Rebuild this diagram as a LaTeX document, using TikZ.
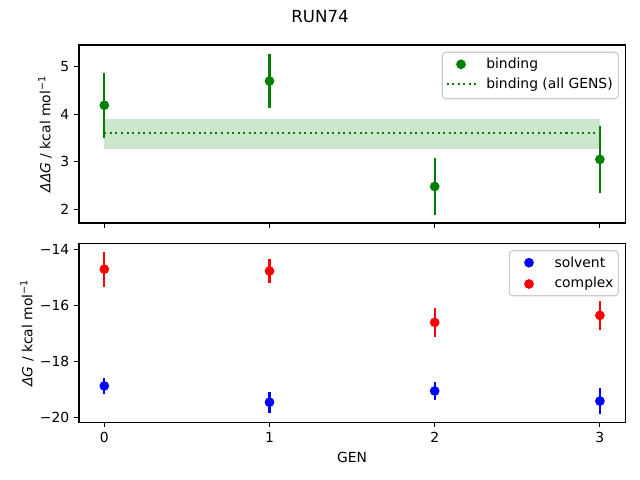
\documentclass[tikz,border=0pt]{standalone}
\usepackage{fontspec}
\setmainfont{DejaVu Sans}
\definecolor{mplgreen}{RGB}{0,128,0}
\definecolor{mplband}{RGB}{204,230,204}
\definecolor{legedge}{RGB}{204,204,204}
\begin{document}
\begin{tikzpicture}[x=0.72pt,y=-0.72pt,
  declare function={tx(\g)=104.3+165.2*\g; ty(\v)=114.3-47.5*(\v-4); by(\v)=249.3-28*(\v+14);},
  spine/.style={line width=0.8pt,black},
  tickmark/.style={line width=0.8pt,black},
  ticklab/.style={font=\fontsize{10pt}{12pt}\selectfont,inner sep=0pt},
  axlab/.style={font=\fontsize{10pt}{12pt}\selectfont,inner sep=0pt},
  errbar/.style={line width=1.5pt},
  legbox/.style={draw=legedge,line width=0.8pt,fill=white,fill opacity=0.8,rounded corners=2.5pt},
  legtext/.style={font=\fontsize{10pt}{12pt}\selectfont,inner sep=0pt,anchor=west},
  meanline/.style={mplgreen,line width=1.5pt,dash pattern=on 1.5pt off 2.5pt}
]
\useasboundingbox (0,0) rectangle (640,480);
\fill[white] (0,0) rectangle (640,480);
% title
\node[font=\fontsize{12pt}{14pt}\selectfont,inner sep=0pt] (title) at (320,16.7) {RUN74};

% ---------- top axes ----------
\fill[mplband] ({tx(0)},{ty(3.90)}) rectangle ({tx(3)},{ty(3.28)});
\draw[meanline] ({tx(0)},{ty(3.61)}) -- ({tx(3)},{ty(3.61)});
% error bars binding
\foreach \g/\v/\e in {0/4.19/0.69, 1/4.70/0.57, 2/2.48/0.60, 3/3.05/0.70}{
  \draw[errbar,mplgreen] ({tx(\g)},{ty(\v+\e)}) -- ({tx(\g)},{ty(\v-\e)});
  \fill[mplgreen] ({tx(\g)},{ty(\v)}) circle (3.5pt);
}
\draw[spine] (79,45) rectangle (625.3,223);
% y ticks top
\foreach \v in {2,3,4,5}{
  \draw[tickmark] (79,{ty(\v)}) -- ++(-4.9,0);
  \node[ticklab,anchor=east] (tt\v) at (69.5,{ty(\v)}) {\v};
}
% x ticks top
\foreach \g in {0,1,2,3}{
  \draw[tickmark] ({tx(\g)},223) -- ++(0,4.9);
}
\node[axlab,rotate=90] (ylabtop) at (45,134) {{\itshape ΔΔG} / kcal mol\textsuperscript{−1}};
% legend top
\draw[legbox] (442.3,52.3) rectangle (618.3,98.7);
\fill[mplgreen] (461,64.3) circle (3.5pt);
\node[legtext] (lbind) at (486,64.3) {binding};
\draw[meanline] (446.5,84.3) -- (475.5,84.3);
\node[legtext] (lall) at (486,84.3) {binding (all GENS)};

% ---------- bottom axes ----------
\foreach \g/\v/\e in {0/-14.71/0.62, 1/-14.775/0.42, 2/-16.61/0.52, 3/-16.36/0.51}{
  \draw[errbar,red] ({tx(\g)},{by(\v+\e)}) -- ({tx(\g)},{by(\v-\e)});
  \fill[red] ({tx(\g)},{by(\v)}) circle (3.5pt);
}
\foreach \g/\v/\e in {0/-18.88/0.30, 1/-19.46/0.37, 2/-19.06/0.31, 3/-19.42/0.46}{
  \draw[errbar,blue] ({tx(\g)},{by(\v+\e)}) -- ({tx(\g)},{by(\v-\e)});
  \fill[blue] ({tx(\g)},{by(\v)}) circle (3.5pt);
}
\draw[spine] (79,243.3) rectangle (625.3,422.3);
\foreach \v/\l in {-14/−14,-16/−16,-18/−18,-20/−20}{
  \draw[tickmark] (79,{by(\v)}) -- ++(-4.9,0);
  \node[ticklab,anchor=east] (bt\l) at (69.5,{by(\v)}) {\l};
}
\foreach \g in {0,1,2,3}{
  \draw[tickmark] ({tx(\g)},422.3) -- ++(0,4.9);
  \node[ticklab,anchor=north] (xt\g) at ({tx(\g)},432) {\g};
}
\node[axlab,rotate=90] (ylabbot) at (27,333) {{\itshape ΔG} / kcal mol\textsuperscript{−1}};
\node[axlab] (xlab) at (352,457) {GEN};
% legend bottom
\draw[legbox] (509.3,250.7) rectangle (618.3,295.7);
\fill[blue] (529,262.7) circle (3.5pt);
\node[legtext] (lsolv) at (554.3,262.7) {solvent};
\fill[red] (529,284) circle (3.5pt);
\node[legtext] (lcomp) at (554.3,284) {complex};
\end{tikzpicture}
\end{document}
